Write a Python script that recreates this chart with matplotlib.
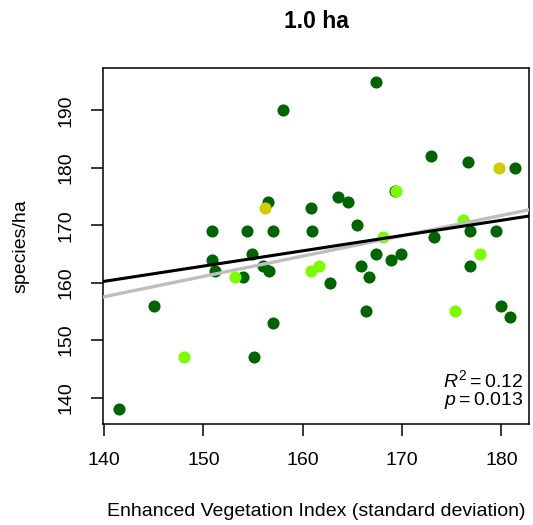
import matplotlib
matplotlib.use("Agg")
import matplotlib.pyplot as plt

plt.rcParams["font.family"] = ["Liberation Sans", "DejaVu Sans"]
plt.rcParams["mathtext.fontset"] = "custom"
plt.rcParams["mathtext.rm"] = "Liberation Sans"
plt.rcParams["mathtext.it"] = "Liberation Sans:italic"

# Plots grouped by colour class
evi_dark = [141.5, 145.0, 150.9, 150.9, 151.2, 154.0, 154.4, 154.9, 155.1, 156.0,
            156.5, 156.6, 157.0, 157.0, 158.0, 160.8, 160.9, 162.7, 163.6, 164.6,
            165.5, 165.9, 166.4, 166.7, 167.4, 167.4, 168.9, 169.3, 169.9, 172.9,
            173.2, 176.6, 176.8, 176.8, 179.5, 180.0, 180.9, 181.4]
spp_dark = [138, 156, 169, 164, 162, 161, 169, 165, 147, 163,
            174, 162, 169, 153, 190, 173, 169, 160, 175, 174,
            170, 163, 155, 161, 165, 195, 164, 176, 165, 182,
            168, 181, 169, 163, 169, 156, 154, 180]

evi_light = [148.1, 153.2, 160.8, 161.6, 168.1, 169.4, 175.3, 176.1, 177.8]
spp_light = [147, 161, 162, 163, 168, 176, 155, 171, 165]

evi_yellow = [156.2, 179.8]
spp_yellow = [173, 180]

# Fitted lines (intercept, slope)
fit_black = (123.0, 0.266)
fit_gray = (108.0, 0.354)

r2_text = r"$R^2 = 0.12$"
p_text = r"$p = 0.013$"

fig = plt.figure(figsize=(5.33, 5.25), dpi=100)
ax = fig.add_axes([0.1927, 0.1924, 0.8003, 0.6781])

ms = 76
ax.scatter(evi_dark, spp_dark, s=ms, color="#006400", linewidths=0, zorder=2)
ax.scatter(evi_light, spp_light, s=ms, color="#7CFC00", linewidths=0, zorder=3)
ax.scatter(evi_yellow, spp_yellow, s=ms, color="#CDCD00", linewidths=0, zorder=3)

ax.axline((0, fit_gray[0]), slope=fit_gray[1], color="#BEBEBE", lw=2.4, zorder=4)
ax.axline((0, fit_black[0]), slope=fit_black[1], color="black", lw=2.2, zorder=5)

ax.set_xlim(139.87, 182.8)
ax.set_ylim(135.4, 197.4)
ax.set_xticks([140, 150, 160, 170, 180])
ax.set_yticks([140, 150, 160, 170, 180, 190])

for sp in ax.spines.values():
    sp.set_linewidth(1.1)

ax.tick_params(axis="both", direction="out", length=8.5, width=1.1,
               labelsize=14, pad=12, colors="black")
for lab in ax.get_yticklabels():
    lab.set_rotation(90)
    lab.set_va("center")

ax.set_xlabel("Enhanced Vegetation Index (standard deviation)", fontsize=14, labelpad=24)
ax.set_ylabel("species/ha", fontsize=14, labelpad=20)
ax.set_title("1.0 ha", fontsize=16.5, fontweight="bold", pad=29)

ax.text(0.985, 0.104, r2_text, transform=ax.transAxes, ha="right", va="baseline", fontsize=14)
ax.text(0.985, 0.052, p_text, transform=ax.transAxes, ha="right", va="baseline", fontsize=14)

fig.savefig("out.png", dpi=100)
